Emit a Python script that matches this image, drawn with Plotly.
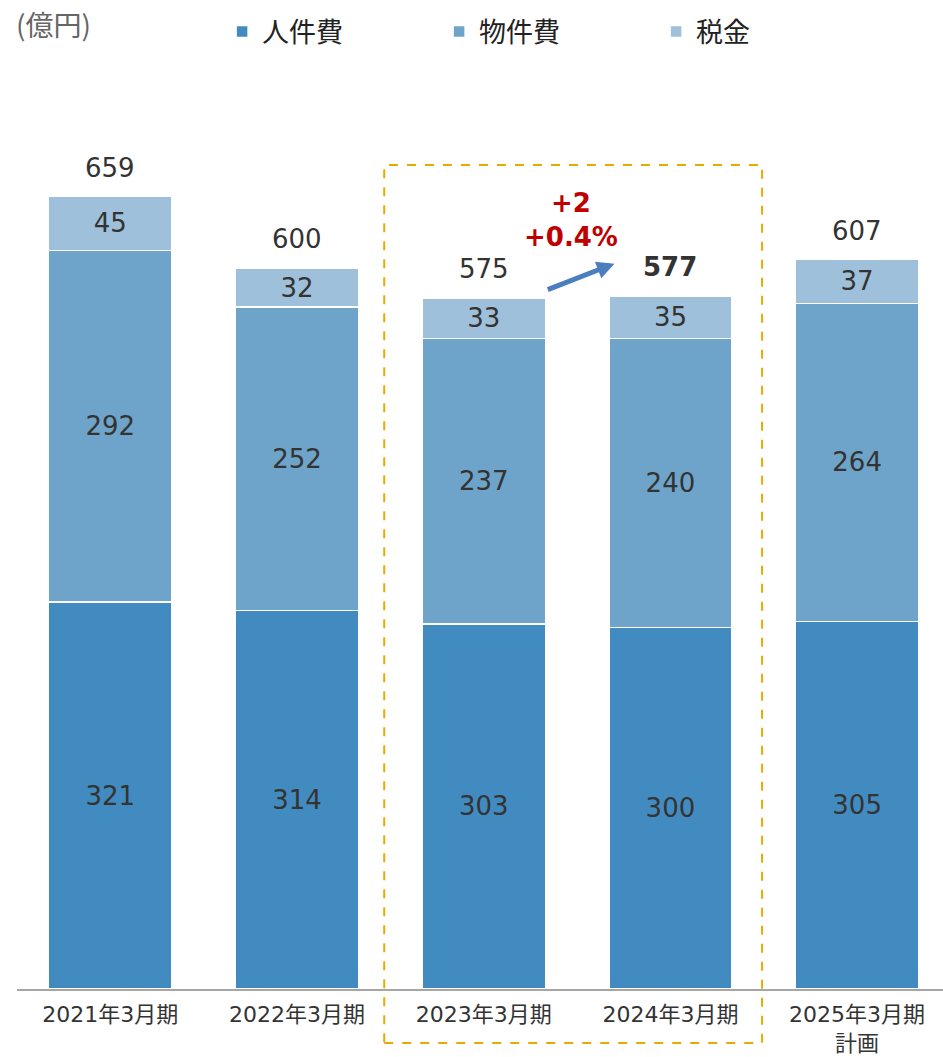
import plotly.graph_objects as go

categories = ["2021年3月期", "2022年3月期", "2023年3月期", "2024年3月期", "2025年3月期<br>計画"]
personnel = [321, 314, 303, 300, 305]
property_cost = [292, 252, 237, 240, 264]
tax = [45, 32, 33, 35, 37]
totals = [659, 600, 575, 577, 607]
series_names = ["人件費", "物件費", "税金"]
change_text = "+2<br>+0.4%"
unit_text = "(億円)"

colors = ["#428BC0", "#6EA4C9", "#9EC0DA"]
NUM_FONT = "DejaVu Sans, Verdana, Noto Sans CJK JP"
CJK_FONT = "Noto Sans CJK JP, DejaVu Sans"

fig = go.Figure()
for name, vals, col in zip(series_names, [personnel, property_cost, tax], colors):
    fig.add_trace(go.Bar(
        x=categories, y=vals, name=name,
        marker=dict(color=col, line=dict(color="white", width=1.5)),
        width=0.66,
        text=[str(v) for v in vals],
        textposition="inside", insidetextanchor="middle", textangle=0,
        textfont=dict(family=NUM_FONT, size=26, color="#333333"),
        hoverinfo="skip",
    ))

annotations = []
for i, (c, t) in enumerate(zip(categories, totals)):
    annotations.append(dict(
        x=c, y=t, text=f"<b>{t}</b>" if i == 3 else str(t),
        showarrow=False, yanchor="middle", yshift=27,
        font=dict(family=NUM_FONT, size=26, color="#333333"),
    ))

# change label (between 2023 and 2024)
annotations.append(dict(
    x=2.47, y=max(totals[2], totals[3]) + 61, xref="x", yref="y",
    text=f"<b>{change_text}</b>", showarrow=False,
    font=dict(family=NUM_FONT, size=26, color="#C00000"),
))
# arrow
annotations.append(dict(
    x=2.70, y=totals[3] + 25, ax=2.335, ay=totals[2] + 5,
    xref="x", yref="y", axref="x", ayref="y",
    text="", showarrow=True, arrowhead=2, arrowsize=0.7, arrowwidth=5,
    arrowcolor="#4A7EBF", standoff=0, startstandoff=0,
))
# unit label
annotations.append(dict(
    x=-0.003, y=1 + (100 - 24) / 889, xref="paper", yref="paper",
    xanchor="left", yanchor="middle", text=unit_text, showarrow=False,
    font=dict(family=CJK_FONT, size=28, color="#666666"),
))

fig.update_layout(
    barmode="stack",
    width=943, height=1057,
    margin=dict(l=17, r=0, t=100, b=68, autoexpand=False),
    plot_bgcolor="white", paper_bgcolor="white",
    font=dict(family=CJK_FONT, color="#333333"),
    showlegend=True,
    legend=dict(
        orientation="h", x=0.2215, xanchor="left", y=1.0765, yanchor="middle",
        entrywidth=172, entrywidthmode="pixels",
        font=dict(family=CJK_FONT, size=27, color="#222222"),
        itemwidth=30, traceorder="normal",
    ),
    xaxis=dict(
        type="category", range=[-0.5, 4.46], automargin=False,
        showline=True, linecolor="#A6A6A6", linewidth=2,
        ticks="", showgrid=False, ticklabelstandoff=5,
        tickfont=dict(family=NUM_FONT, size=22, color="#333333"),
    ),
    yaxis=dict(range=[0, 737.8], visible=False, showgrid=False, zeroline=False),
    annotations=annotations,
    shapes=[dict(
        type="rect", xref="x", yref="paper",
        x0=1.467, x1=3.491, y0=-0.0607, y1=0.9269,
        line=dict(color="#E8A900", width=2, dash="dash"),
        fillcolor="rgba(0,0,0,0)", layer="above",
    )],
)

fig.write_html("out.html", config={"displayModeBar": False},
               post_script="document.body.style.margin='0';")
